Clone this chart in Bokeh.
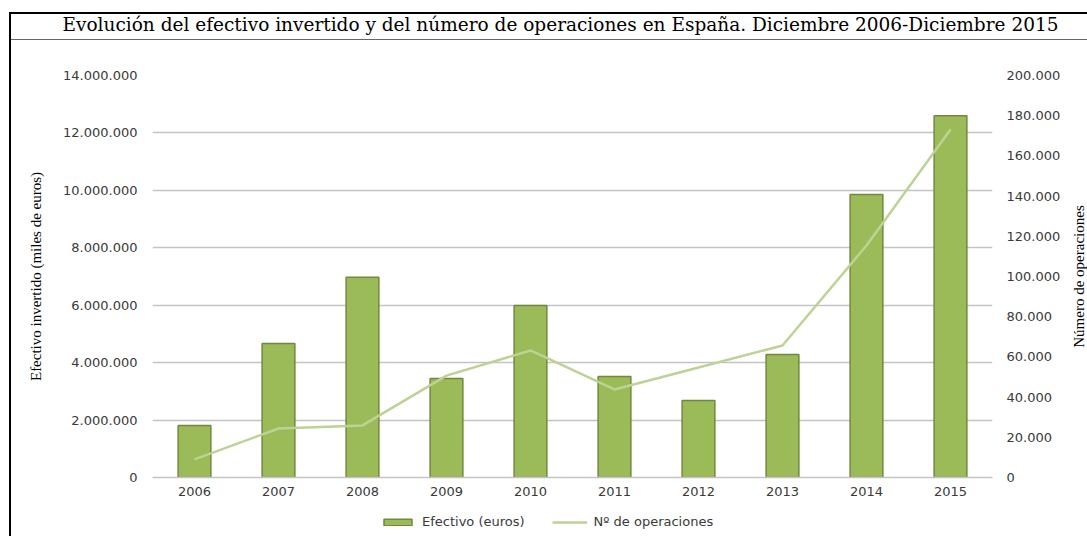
import math
import numpy as np
from bokeh.plotting import figure
from bokeh.models import (Range1d, LinearAxis, FixedTicker, CustomJSTickFormatter,
                          Legend, LegendItem, FactorRange, Label)
from bokeh.layouts import column, row
from bokeh.embed import file_html
from bokeh.resources import INLINE

# ---- data ----
years = ["2006", "2007", "2008", "2009", "2010", "2011", "2012", "2013", "2014", "2015"]
efectivo = [1810000, 4670000, 6970000, 3450000, 5990000, 3520000, 2680000, 4280000, 9860000, 12600000]
operaciones = [9000, 24400, 25900, 50700, 63200, 43800, 54700, 65700, 115400, 173100]
left_ticks = [0, 2000000, 4000000, 6000000, 8000000, 10000000, 12000000, 14000000]
right_ticks = [0, 20000, 40000, 60000, 80000, 100000, 120000, 140000, 160000, 180000, 200000]
title_text = "Evolución del efectivo invertido y del número de operaciones en España. Diciembre 2006-Diciembre 2015"
left_label = "Efectivo invertido (miles de euros)"
right_label = "Número de operaciones"
legend_labels = ["Efectivo (euros)", "Nº de operaciones"]

W_ALL = 1087
WR = 18                               # strip holding the right axis title
W = W_ALL - WR                        # chart width
H1, H2 = 502, 34                      # chart figure, legend strip
FL, FR, FT, FB = 152, 992, 75, 477    # frame edges (px)

BAR_FILL, BAR_LINE, LINE_COLOR = "#9bbb59", "#71893f", "#bdd295"
tick_font = "DejaVu Sans"
tick_color = "#3a3a3a"

HEADER_CSS = {
    "background-color": "white",
    "background-image": "linear-gradient(#000,#000), linear-gradient(#000,#000), linear-gradient(#666,#666)",
    "background-repeat": "no-repeat",
    "background-position": "9px 12px, 9px 12px, 9px 39px",
    "background-size": "calc(100% - 9px) 2px, 2px calc(100% - 12px), calc(100% - 9px) 1px",
}

p = figure(x_range=FactorRange(factors=years, range_padding=0),
           y_range=Range1d(0, 14000000),
           width=W, height=H1, output_backend="svg", toolbar_location=None,
           min_border_left=FL, min_border_right=W - FR,
           min_border_top=FT, min_border_bottom=H1 - FB)
p.extra_y_ranges = {"ops": Range1d(0, 200000)}
p.outline_line_color = None
p.border_fill_color = None
p.background_fill_color = "white"
p.styles = HEADER_CSS

# title (a trailing blank line lifts it into the header box)
p.title.text = title_text + "\n "
p.title.align = "left"
p.title.offset = -90
p.title.standoff = 19
p.title.text_line_height = 1.5
p.title.text_font = "DejaVu Serif"
p.title.text_font_size = "18.5px"
p.title.text_font_style = "normal"
p.title.text_color = "black"

fmt = CustomJSTickFormatter(code="""
return Math.round(tick).toString().replace(/\\B(?=(\\d{3})+(?!\\d))/g, '.');
""")

ya = p.yaxis[0]
ya.ticker = FixedTicker(ticks=left_ticks)
ya.formatter = fmt
ya.axis_line_color = None
ya.major_tick_line_color = None
ya.minor_tick_line_color = None
ya.major_label_text_font = tick_font
ya.major_label_text_font_size = "13px"
ya.major_label_text_color = tick_color
ya.major_label_standoff = 9
ya.axis_label = left_label
ya.axis_label_text_font = "Liberation Serif"
ya.axis_label_text_font_style = "normal"
ya.axis_label_text_font_size = "15px"
ya.axis_label_text_color = "black"
ya.axis_label_standoff = 16

ra = LinearAxis(y_range_name="ops", ticker=FixedTicker(ticks=right_ticks), formatter=fmt)
ra.axis_line_color = None
ra.major_tick_line_color = None
ra.minor_tick_line_color = None
ra.major_label_text_font = tick_font
ra.major_label_text_font_size = "13px"
ra.major_label_text_color = tick_color
ra.major_label_standoff = 8
p.add_layout(ra, "right")

xa = p.xaxis[0]
xa.axis_line_color = "#c4c4c4"
xa.axis_line_width = 1.5
xa.major_tick_line_color = None
xa.minor_tick_line_color = None
xa.major_label_text_font = tick_font
xa.major_label_text_font_size = "13px"
xa.major_label_text_color = tick_color
xa.major_label_standoff = 3

p.xgrid.visible = False
p.ygrid.ticker = FixedTicker(ticks=left_ticks)
p.ygrid.grid_line_color = "#c4c4c4"
p.ygrid.grid_line_width = 1.5

p.vbar(x=years, top=efectivo, width=0.39, fill_color=BAR_FILL,
       line_color=BAR_LINE, line_width=1.5)
p.line(x=years, y=operaciones, y_range_name="ops", line_color=LINE_COLOR, line_width=2.5)

# ---------------- legend strip below the chart ----------------
# legend proxies: same styles as the chart series, with empty (NaN) values so nothing is drawn
proxy = np.full(len(years), np.nan)
lf = figure(width=W, height=H2, x_range=FactorRange(factors=years, range_padding=0),
            y_range=Range1d(0, 1), output_backend="svg", toolbar_location=None,
            x_axis_location=None, y_axis_location=None,
            min_border_left=FL, min_border_right=W - FR, min_border_top=0, min_border_bottom=0)
lf.grid.visible = False
lf.outline_line_color = None
lf.border_fill_color = None
lf.background_fill_color = None
lf.styles = {
    "background-color": "white",
    "background-image": "linear-gradient(#000,#000)",
    "background-repeat": "no-repeat",
    "background-position": "9px 0px",
    "background-size": "2px 100%",
}
lg_bar = lf.vbar(x=years, top=proxy, bottom=proxy, width=0.39, fill_color=BAR_FILL,
                 line_color=BAR_LINE, line_width=1.5)
lg_line = lf.line(x=years, y=proxy, line_color=LINE_COLOR, line_width=2.5)

legend = Legend(items=[LegendItem(label=legend_labels[0], renderers=[lg_bar]),
                       LegendItem(label=legend_labels[1], renderers=[lg_line])],
                orientation="horizontal", location=(228, 7),
                glyph_width=35, glyph_height=8, label_standoff=7, spacing=27,
                padding=3, margin=0, border_line_color=None, background_fill_alpha=0,
                label_text_font=tick_font, label_text_font_size="13px",
                label_text_color=tick_color, label_height=14)
lf.add_layout(legend, "center")

# ---------------- narrow strip with the right axis title ----------------
rf = figure(width=WR, height=H1, x_range=Range1d(0, 1), y_range=Range1d(0, 1),
            output_backend="svg", toolbar_location=None,
            x_axis_location=None, y_axis_location=None,
            min_border_left=0, min_border_right=0, min_border_top=FT, min_border_bottom=H1 - FB)
rf.grid.visible = False
rf.outline_line_color = None
rf.border_fill_color = None
rf.background_fill_color = None
rf.styles = {
    "background-color": "white",
    "background-image": "linear-gradient(#000,#000), linear-gradient(#666,#666)",
    "background-repeat": "no-repeat",
    "background-position": "0px 12px, 0px 39px",
    "background-size": "100% 2px, 100% 1px",
}
rf.add_layout(Label(x=0.5, y=0.5, text=right_label, angle=math.pi / 2,
                    text_align="center", text_baseline="middle",
                    text_font="Liberation Serif", text_font_size="15px", text_color="black"))

layout = row(column(p, lf, spacing=0), rf, spacing=0)
open("out.html", "w").write(file_html(layout, INLINE))
